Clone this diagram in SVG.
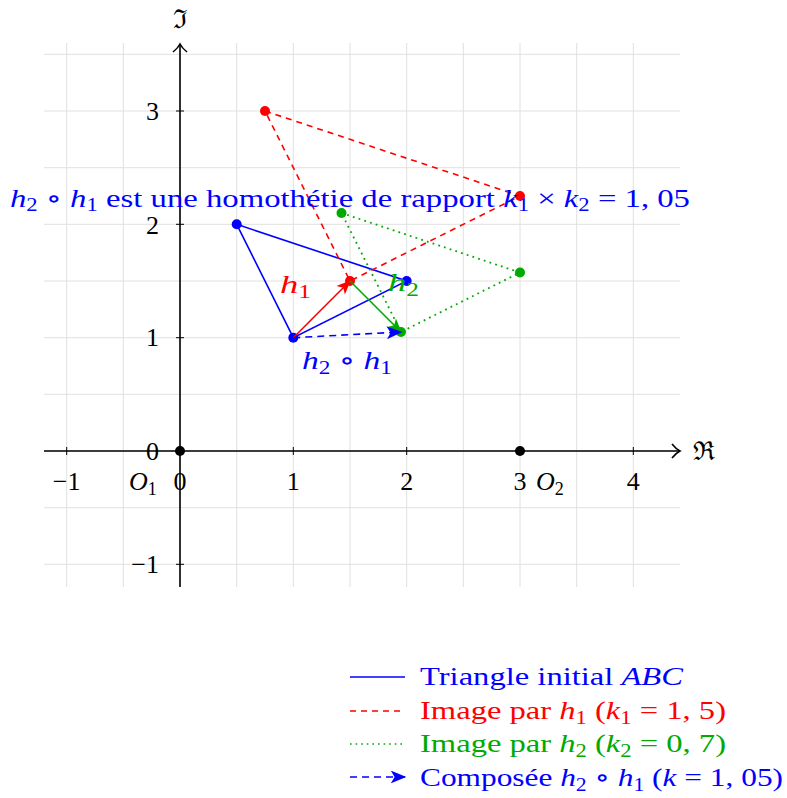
<svg xmlns="http://www.w3.org/2000/svg" width="787" height="798" viewBox="0 0 787 798">
<style>
text{font-family:"Liberation Serif","DejaVu Serif",serif;font-size:26px}
.i{font-style:italic}
.s{font-size:18px}
.grid line{stroke:#e0e0e0;stroke-width:1}
.ax{stroke:#000;stroke-width:1.6;fill:none}
.tk{stroke:#000;stroke-width:1}
.blue{stroke:#0000ff;stroke-width:1.6;fill:none}
.red{stroke:#ff0000;stroke-width:1.6;fill:none;stroke-dasharray:6,5}
.green{stroke:#00aa00;stroke-width:1.8;fill:none;stroke-dasharray:1.8,4.2}
</style>
<defs>
<marker id="arR" viewBox="0 0 12 10" refX="11" refY="5" markerWidth="15" markerHeight="12" markerUnits="userSpaceOnUse" orient="auto"><path d="M0,0 L12,5 L0,10 L3,5 Z" fill="#ff0000"/></marker>
<marker id="arG" viewBox="0 0 12 10" refX="11" refY="5" markerWidth="15" markerHeight="12" markerUnits="userSpaceOnUse" orient="auto"><path d="M0,0 L12,5 L0,10 L3,5 Z" fill="#00aa00"/></marker>
<marker id="arB" viewBox="0 0 12 10" refX="11" refY="5" markerWidth="16" markerHeight="13" markerUnits="userSpaceOnUse" orient="auto"><path d="M0,0 L12,5 L0,10 L3,5 Z" fill="#0000ff"/></marker>
</defs>
<rect width="787" height="798" fill="#fff"/>
<g class="grid">
<line x1="66.7" y1="43" x2="66.7" y2="587"/><line x1="123.3" y1="43" x2="123.3" y2="587"/><line x1="180" y1="43" x2="180" y2="587"/><line x1="236.7" y1="43" x2="236.7" y2="587"/><line x1="293.3" y1="43" x2="293.3" y2="587"/><line x1="350" y1="43" x2="350" y2="587"/><line x1="406.7" y1="43" x2="406.7" y2="587"/><line x1="463.3" y1="43" x2="463.3" y2="587"/><line x1="520" y1="43" x2="520" y2="587"/><line x1="576.7" y1="43" x2="576.7" y2="587"/><line x1="633.3" y1="43" x2="633.3" y2="587"/>
<line x1="44" y1="54.3" x2="680" y2="54.3"/><line x1="44" y1="111" x2="680" y2="111"/><line x1="44" y1="167.7" x2="680" y2="167.7"/><line x1="44" y1="224.3" x2="680" y2="224.3"/><line x1="44" y1="281" x2="680" y2="281"/><line x1="44" y1="337.7" x2="680" y2="337.7"/><line x1="44" y1="394.3" x2="680" y2="394.3"/><line x1="44" y1="451" x2="680" y2="451"/><line x1="44" y1="507.7" x2="680" y2="507.7"/><line x1="44" y1="564.3" x2="680" y2="564.3"/>
</g>
<g id="axes">
<line class="ax" x1="44" y1="451" x2="680" y2="451"/>
<path class="ax" d="M672,444 Q676,449 680,451 Q676,453 672,458"/>
<line class="ax" x1="180" y1="587" x2="180" y2="44"/>
<path class="ax" d="M173,52 Q178,48 180,44 Q182,48 187,52"/>
<g class="tk">
<line x1="66.7" y1="447" x2="66.7" y2="455"/><line x1="293.3" y1="447" x2="293.3" y2="455"/><line x1="406.7" y1="447" x2="406.7" y2="455"/><line x1="520" y1="447" x2="520" y2="455"/><line x1="633.3" y1="447" x2="633.3" y2="455"/>
<line x1="176" y1="111" x2="184" y2="111"/><line x1="176" y1="224.3" x2="184" y2="224.3"/><line x1="176" y1="337.7" x2="184" y2="337.7"/><line x1="176" y1="564.3" x2="184" y2="564.3"/>
</g>
<text x="704" y="460" text-anchor="middle" font-family="DejaVu Serif" font-size="24">ℜ</text>
<text x="180" y="28" text-anchor="middle" font-family="DejaVu Serif" font-size="24">ℑ</text>
<g text-anchor="middle">
<text x="66.7" y="490">−1</text><text x="180" y="490">0</text><text x="293.3" y="490">1</text><text x="406.7" y="490">2</text><text x="520" y="490">3</text><text x="633.3" y="490">4</text>
</g>
<g text-anchor="end">
<text x="159" y="120">3</text><text x="159" y="234">2</text><text x="159" y="346">1</text><text x="159" y="460">0</text><text x="159" y="573">−1</text>
</g>
</g>
<g id="triangle-ABC">
<polygon class="blue" points="236.7,224.3 406.7,281 293.3,337.7"/>
<g fill="#0000ff"><circle cx="293.3" cy="337.7" r="5"/><circle cx="406.7" cy="281" r="5"/><circle cx="236.7" cy="224.3" r="5"/></g>
</g>
<g id="image-h1">
<polygon class="red" points="265,111 520,196 350,281"/>
<g fill="#ff0000"><circle cx="265" cy="111" r="5"/><circle cx="520" cy="196" r="5"/><circle cx="350" cy="281" r="5"/></g>
</g>
<g id="image-h2">
<polygon class="green" points="341.5,213 520,272.5 401,332"/>
<g fill="#00aa00"><circle cx="341.5" cy="213" r="5"/><circle cx="520" cy="272.5" r="5"/><circle cx="401" cy="332" r="5"/></g>
</g>
<g id="centres" fill="#000">
<circle cx="180" cy="451" r="5"/><circle cx="520" cy="451" r="5"/>
<text x="129" y="490"><tspan class="i">O</tspan><tspan class="s" dy="5">1</tspan></text>
<text x="536" y="490"><tspan class="i">O</tspan><tspan class="s" dy="5">2</tspan></text>
</g>
<g id="connectors">
<line x1="293.3" y1="337.7" x2="350" y2="281" stroke="#ff0000" stroke-width="1.6" marker-end="url(#arR)"/>
<line x1="350" y1="281" x2="401" y2="332" stroke="#00aa00" stroke-width="1.6" marker-end="url(#arG)"/>
<line x1="293.3" y1="337.7" x2="401" y2="332" stroke="#0000ff" stroke-width="1.6" stroke-dasharray="7,5" marker-end="url(#arB)"/>
</g>
<g id="labels">
<text x="280" y="293" fill="#ff0000" textLength="31" lengthAdjust="spacingAndGlyphs"><tspan class="i">h</tspan><tspan class="s" dy="5">1</tspan></text>
<text x="388" y="291" fill="#00aa00" textLength="31" lengthAdjust="spacingAndGlyphs"><tspan class="i">h</tspan><tspan class="s" dy="5">2</tspan></text>
<text x="302" y="369" fill="#0000ff" textLength="90" lengthAdjust="spacingAndGlyphs"><tspan class="i">h</tspan><tspan class="s" dy="5">2</tspan><tspan dy="-5"> ∘ </tspan><tspan class="i">h</tspan><tspan class="s" dy="5">1</tspan></text>
<text x="10" y="207" fill="#0000ff" textLength="680" lengthAdjust="spacingAndGlyphs"><tspan class="i">h</tspan><tspan class="s" dy="4">2</tspan><tspan dy="-4"> ∘ </tspan><tspan class="i">h</tspan><tspan class="s" dy="4">1</tspan><tspan dy="-4"> est une homothétie de rapport </tspan><tspan class="i">k</tspan><tspan class="s" dy="4">1</tspan><tspan dy="-4"> × </tspan><tspan class="i">k</tspan><tspan class="s" dy="4">2</tspan><tspan dy="-4"> = 1, 05</tspan></text>
</g>
<g id="legend">
<line x1="350" y1="677" x2="405" y2="677" stroke="#0000ff" stroke-width="1.6"/>
<line x1="350" y1="711" x2="405" y2="711" stroke="#ff0000" stroke-width="1.6" stroke-dasharray="6,5"/>
<line x1="350" y1="744" x2="405" y2="744" stroke="#00aa00" stroke-width="1.6" stroke-dasharray="1.6,4"/>
<line x1="350" y1="777" x2="405" y2="777" stroke="#0000ff" stroke-width="1.6" stroke-dasharray="7,5" marker-end="url(#arB)"/>
<text x="420" y="685" fill="#0000ff" textLength="263" lengthAdjust="spacingAndGlyphs">Triangle initial <tspan class="i">ABC</tspan></text>
<text x="420" y="719" fill="#ff0000" textLength="306" lengthAdjust="spacingAndGlyphs">Image par <tspan class="i">h</tspan><tspan class="s" dy="5">1</tspan><tspan dy="-5"> (</tspan><tspan class="i">k</tspan><tspan class="s" dy="5">1</tspan><tspan dy="-5"> = 1, 5)</tspan></text>
<text x="420" y="752" fill="#00aa00" textLength="306" lengthAdjust="spacingAndGlyphs">Image par <tspan class="i">h</tspan><tspan class="s" dy="5">2</tspan><tspan dy="-5"> (</tspan><tspan class="i">k</tspan><tspan class="s" dy="5">2</tspan><tspan dy="-5"> = 0, 7)</tspan></text>
<text x="420" y="786" fill="#0000ff" textLength="363" lengthAdjust="spacingAndGlyphs">Composée <tspan class="i">h</tspan><tspan class="s" dy="5">2</tspan><tspan dy="-5"> ∘ </tspan><tspan class="i">h</tspan><tspan class="s" dy="5">1</tspan><tspan dy="-5"> (</tspan><tspan class="i">k</tspan> = 1, 05)</text>
</g>
</svg>
